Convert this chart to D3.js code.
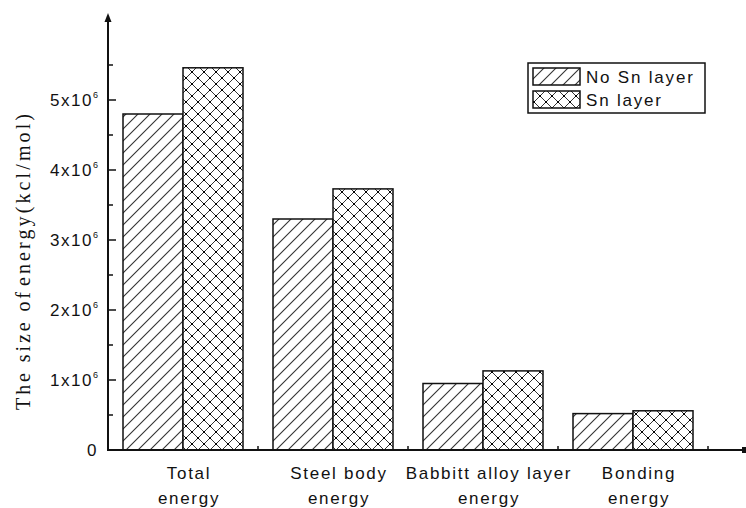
<!DOCTYPE html>
<html>
<head>
<meta charset="utf-8">
<script src="https://cdn.jsdelivr.net/npm/d3@7/dist/d3.min.js"></script>
<style>
  html, body { margin: 0; padding: 0; background: #fff; }
  svg { display: block; }
  .lbl { font-family: Arial, "Liberation Sans", sans-serif; fill: #111; }
</style>
</head>
<body>
<div id="chart"></div>
<script>
// Energy components, with and without the Sn interlayer (kcal/mol)
const categories = [["Total", "energy"], ["Steel body", "energy"], ["Babbitt alloy layer", "energy"], ["Bonding", "energy"]];
const series = ["No Sn layer", "Sn layer"];
const noSnValues = [4.80e6, 3.30e6, 0.95e6, 0.52e6];
const snValues = [5.46e6, 3.73e6, 1.13e6, 0.56e6];
const majorTicks = [0, 1e6, 2e6, 3e6, 4e6, 5e6];
const minorTicks = [0.5e6, 1.5e6, 2.5e6, 3.5e6, 4.5e6, 5.5e6];
const yTitle = ["The size of", "energy(kcl/mol)"];

const W = 746, H = 508;
const svg = d3.select("#chart").append("svg").attr("width", W).attr("height", H);
const defs = svg.append("defs");

// Hatch fills: single diagonal for "No Sn", cross-hatch with dotted crossings for "Sn"
const hatch = defs.append("pattern").attr("id", "hatch")
  .attr("patternUnits", "userSpaceOnUse").attr("width", 12).attr("height", 12);
hatch.append("rect").attr("width", 12).attr("height", 12).attr("fill", "#fff");
hatch.append("path").attr("d", "M-3,3 L3,-3 M0,12 L12,0 M9,15 L15,9")
  .attr("stroke", "#333").attr("stroke-width", 1.1);

const cross = defs.append("pattern").attr("id", "cross")
  .attr("patternUnits", "userSpaceOnUse").attr("width", 12).attr("height", 12);
cross.append("rect").attr("width", 12).attr("height", 12).attr("fill", "#fff");
cross.append("path").attr("d", "M-3,3 L3,-3 M0,12 L12,0 M9,15 L15,9 M-3,9 L3,15 M0,0 L12,12 M9,-3 L15,3")
  .attr("stroke", "#333").attr("stroke-width", 1.0);
cross.append("rect").attr("x", 5).attr("y", 5).attr("width", 2).attr("height", 2).attr("fill", "#000");
[[0,0],[12,0],[0,12],[12,12]].forEach(([cx, cy]) =>
  cross.append("rect").attr("x", cx - 1).attr("y", cy - 1).attr("width", 2).attr("height", 2).attr("fill", "#000"));

const fills = { "No Sn layer": "url(#hatch)", "Sn layer": "url(#cross)" };

// Scales
const x0 = d3.scaleBand().domain(categories.map(c => c.join(" "))).range([108, 708]).paddingInner(0).paddingOuter(0);
const x1 = d3.scaleBand().domain(series).range([0, x0.bandwidth()]).paddingInner(0).paddingOuter(0.25);
const y = d3.scaleLinear().domain([0, 6e6]).range([450, 30]);

// Bars
const rows = categories.map((c, i) => ({ key: c.join(" "), vals: [noSnValues[i], snValues[i]] }));
const groups = svg.append("g").selectAll("g").data(rows).join("g")
  .attr("transform", d => `translate(${x0(d.key)},0)`);
groups.selectAll("rect").data(d => series.map((s, j) => ({ s, v: d.vals[j] }))).join("rect")
  .attr("x", d => x1(d.s)).attr("width", x1.bandwidth())
  .attr("y", d => y(d.v)).attr("height", d => y(0) - y(d.v))
  .attr("fill", d => fills[d.s]).attr("stroke", "#111").attr("stroke-width", 1.5);

// Y axis: line with arrowhead, inward ticks
const axisG = svg.append("g");
axisG.append("line").attr("x1", 108).attr("x2", 108).attr("y1", y(0) + 1).attr("y2", 20)
  .attr("stroke", "#111").attr("stroke-width", 2);
axisG.append("path").attr("d", "M108,13 L104.5,22 L111.5,22 Z").attr("fill", "#111");
axisG.selectAll(".maj").data(majorTicks).join("line")
  .attr("x1", 108).attr("x2", 116).attr("y1", d => y(d)).attr("y2", d => y(d))
  .attr("stroke", "#111").attr("stroke-width", 1.5);
axisG.selectAll(".min").data(minorTicks).join("line")
  .attr("x1", 108).attr("x2", 113).attr("y1", d => y(d)).attr("y2", d => y(d))
  .attr("stroke", "#111").attr("stroke-width", 1.5);

const tl = axisG.selectAll(".tl").data(majorTicks).join("text").attr("class", "lbl")
  .attr("x", 98).attr("y", d => y(d) + 6).attr("text-anchor", "end")
  .style("font-size", "17px").style("letter-spacing", "1.5px");
tl.each(function(d) {
  const t = d3.select(this);
  if (d === 0) { t.text("0"); return; }
  t.append("tspan").text(`${d / 1e6}x10`);
  t.append("tspan").attr("dy", -8).style("font-size", "9px").style("letter-spacing", "0px").text("6");
});

// X axis: baseline running to the right edge, small ticks at band edges
axisG.append("line").attr("x1", 107).attr("x2", 742).attr("y1", 450).attr("y2", 450)
  .attr("stroke", "#111").attr("stroke-width", 2);
axisG.append("rect").attr("x", 742).attr("y", 447).attr("width", 4).attr("height", 6).attr("fill", "#111");
const edges = x0.domain().map(k => x0(k) + x0.bandwidth()).concat([x0.range()[0]]);
axisG.selectAll(".xt").data(edges).join("line")
  .attr("x1", d => d).attr("x2", d => d).attr("y1", 450).attr("y2", 446)
  .attr("stroke", "#111").attr("stroke-width", 1.5);

// Category labels (two lines), set slightly right of the group centre
const cl = svg.append("g").selectAll("text").data(categories).join("text").attr("class", "lbl")
  .attr("text-anchor", "middle").style("font-size", "17px").style("letter-spacing", "1.7px");
cl.each(function(c) {
  const t = d3.select(this);
  const cx = x0(c.join(" ")) + x0.bandwidth() / 2 + 6;
  c.forEach((line, i) => t.append("tspan").attr("x", cx).attr("y", 479 + i * 25).text(line));
});

// Y title, in two runs of different spacing
const ytG = svg.append("g").attr("transform", "translate(30,0) rotate(-90)")
  .style("fill", "#111").style("font-family", "'Liberation Serif', 'DejaVu Serif', serif").style("font-size", "20px");
ytG.append("text").attr("x", -410).attr("y", 0).attr("textLength", 118).attr("lengthAdjust", "spacing").text(yTitle[0]);
ytG.append("text").attr("x", -286).attr("y", 0).attr("textLength", 172).attr("lengthAdjust", "spacing").text(yTitle[1]);

// Legend
const lg = svg.append("g");
lg.append("rect").attr("x", 528).attr("y", 63).attr("width", 177).attr("height", 50)
  .attr("fill", "#fff").attr("stroke", "#111").attr("stroke-width", 1.5);
series.forEach((s, i) => {
  const yy = 68 + i * 23;
  lg.append("rect").attr("x", 533).attr("y", yy).attr("width", 47).attr("height", 17)
    .attr("fill", fills[s]).attr("stroke", "#111").attr("stroke-width", 1.5);
  lg.append("text").attr("class", "lbl").attr("x", 586).attr("y", yy + 15)
    .style("font-size", "17px").style("letter-spacing", "1.8px").text(s);
});
</script>
</body>
</html>
